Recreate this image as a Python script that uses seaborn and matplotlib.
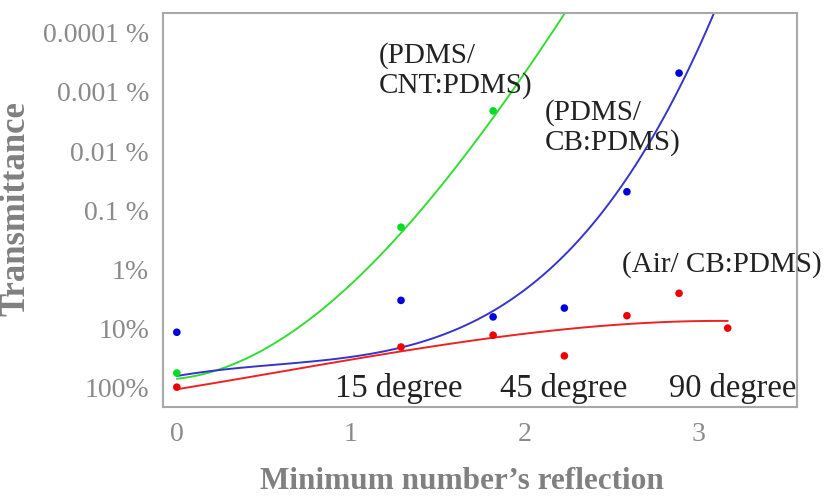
import numpy as np
import pandas as pd
import seaborn as sns
import matplotlib.pyplot as plt

# Measured points (x = minimum number of reflections, y = decades of attenuation, 0 -> 100 %)
refl_cnt = [0, 1.29, 1.82]
atten_cnt = [0.24, 2.71, 4.68]

refl_cb = [0, 1.29, 1.82, 2.23, 2.59, 2.89]
atten_cb = [0.93, 1.47, 1.19, 1.34, 3.31, 5.32]

refl_air = [0, 1.29, 1.82, 2.23, 2.59, 2.89, 3.17]
atten_air = [0.0, 0.68, 0.88, 0.53, 1.21, 1.59, 1.0]

# Fitted trend lines
fit_cnt_x = [0, 0.06, 0.38, 0.67, 0.96, 1.23, 1.55, 1.82, 1.99, 2.23]
fit_cnt_y = [0.17, 0.15, 0.41, 0.97, 1.7, 2.32, 3.6, 4.53, 5.25, 6.34]

fit_cb_x = [0, 0.29, 0.67, 1.05, 1.28, 1.47, 1.86, 2.15, 2.34, 2.59, 2.78, 2.97, 3.11]
fit_cb_y = [0.23, 0.24, 0.37, 0.58, 0.7, 0.88, 1.33, 1.95, 2.5, 3.51, 4.58, 5.66, 6.34]

fit_air_x = [0, 0.29, 0.67, 1.05, 1.28, 1.82, 2.24, 2.59, 3.17]
fit_air_y = [0.0, 0.07, 0.25, 0.51, 0.64, 0.86, 0.97, 1.03, 1.14]

ytick_labels = ['100%', '10%', '1%', '0.1 %', '0.01 %', '0.001 %', '0.0001 %']
xtick_values = [0, 1, 2, 3]

sns.set_style("white")
plt.rcParams['font.family'] = ['Liberation Serif', 'DejaVu Serif']

fig = plt.figure(figsize=(8.27, 4.96), dpi=100)
ax = fig.add_axes([0.197, 0.179, 0.767, 0.795])

# trend lines
sns.regplot(x=fit_cnt_x, y=fit_cnt_y, order=3, scatter=False, ci=None,
            color='#33dd33', line_kws=dict(lw=1.4), ax=ax)
sns.regplot(x=fit_cb_x, y=fit_cb_y, order=4, scatter=False, ci=None,
            color='#3535cc', line_kws=dict(lw=1.4), ax=ax)
sns.regplot(x=fit_air_x, y=fit_air_y, order=3, scatter=False, ci=None,
            color='#ee2222', line_kws=dict(lw=1.4), ax=ax)

# measured points
sns.scatterplot(x=refl_cb, y=atten_cb, color='#0000dd', s=30, edgecolor='none', ax=ax, zorder=3)
sns.scatterplot(x=refl_cnt, y=atten_cnt, color='#00dd22', s=30, edgecolor='none', ax=ax, zorder=3)
sns.scatterplot(x=refl_air, y=atten_air, color='#ee0000', s=30, edgecolor='none', ax=ax, zorder=3)

ax.set_xlim(-0.08, 3.57)
ax.set_ylim(-0.34, 6.34)
ax.set_yticks(range(len(ytick_labels)))
ax.set_yticklabels(ytick_labels)
ax.set_xticks(xtick_values)
ax.set_xticklabels([str(v) for v in xtick_values])
ax.tick_params(direction='in', length=3, width=1, color='#999999',
               labelcolor='#8a8a8a', labelsize=20)
ax.tick_params(axis='y', pad=10)
ax.tick_params(axis='x', pad=11)
for sp in ax.spines.values():
    sp.set_color('#a8a8a8')
    sp.set_linewidth(1.5)

txt = dict(fontsize=21, color='#222222')
ax.text(1.16, 5.85, '(PDMS/\nCNT:PDMS)', va='top', ha='left', linespacing=1.15, **txt)
ax.text(2.12, 4.88, '(PDMS/\nCB:PDMS)', va='top', ha='left', linespacing=1.15, **txt)
ax.text(2.56, 2.3, '(Air/ CB:PDMS)', va='top', ha='left', **txt)
deg = dict(fontsize=23.5, color='#222222', va='baseline', ha='left')
ax.text(0.91, -0.17, '15 degree', **deg)
ax.text(1.86, -0.17, '45 degree', **deg)
ax.text(2.83, -0.17, '90 degree', **deg)

ax.set_xlabel("Minimum number’s reflection", fontsize=22.5, fontweight='bold', color='#808080')
ax.set_ylabel('Transmittance', fontsize=25, fontweight='bold', color='#808080')
ax.xaxis.set_label_coords(0.472, -0.152)
ax.yaxis.set_label_coords(-0.205, 0.505)

fig.savefig('out.png', dpi=100)
